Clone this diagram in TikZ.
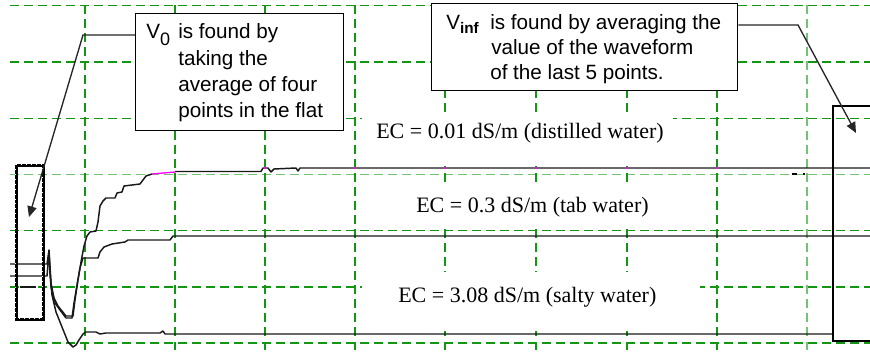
\documentclass[tikz,border=0pt]{standalone}
\usepackage{fontspec}
\setmainfont{Liberation Serif}
\newfontfamily\sansfam{Liberation Sans}
\usetikzlibrary{arrows.meta}
\definecolor{gdark}{RGB}{20,150,20}
\definecolor{glight}{RGB}{115,195,115}
\definecolor{mag}{RGB}{255,0,255}
\begin{document}
\begin{tikzpicture}[x=0.75pt,y=-0.75pt,
 grid/.style={gdark, line width=1.15pt, dash pattern=on 6.5pt off 4pt},
 gridl/.style={glight, line width=1.15pt, dash pattern=on 6.5pt off 4pt},
 trace/.style={black!90, line width=1.1pt, line join=round},
 callout/.style={draw=black, fill=white, line width=1.1pt, inner sep=0pt, anchor=north west},
 selbox/.style={draw=black, line width=2.4pt, inner sep=0pt, anchor=north west},
 txt/.style={font=\sansfam\fontsize{15.5pt}{18pt}\selectfont, inner sep=0pt, anchor=base west},
 ectxt/.style={font=\fontsize{16.5pt}{19pt}\selectfont, inner sep=0pt, anchor=base west},
 pointer/.style={draw=black!85, line width=1pt, -{Triangle[length=8pt,width=7pt]}}
]
\useasboundingbox (0,0) rectangle (870,352);
\fill[white] (0,0) rectangle (870,352);

% grid
\foreach \y in {5.5,62,118.5,230.5,287,343} \draw[grid] (10,\y) -- (870,\y);
\draw[gridl] (10,174.5) -- (870,174.5);
\foreach \x in {85,175,265,355,445,536,627,717} \draw[grid] (\x,5.5) -- (\x,352);
\draw[gridl] (807,5.5) -- (807,352);

% white backgrounds of the EC labels
\fill[white] (362,112) rectangle (673,166);
\fill[white] (372,182) rectangle (690,228);
\fill[white] (362,272) rectangle (700,331);

% traces
\draw[trace] (10,264) -- (47,264) -- (49,250) -- (51,283) -- (54,298) -- (58,306) -- (62,311) -- (66,316) -- (73,316) -- (75,300) -- (78,280) -- (81,262) -- (84,246) -- (87,236) -- (90,232) -- (96,231) -- (98,222) -- (100,206) -- (103,201) -- (106,198) -- (115,198) -- (117,193) -- (122,192) -- (124,186) -- (140,184) -- (143,180) -- (146,176) -- (152,174);
\draw[mag, line width=1pt] (152,174) -- (175,172);
\draw[trace] (175,171.5) -- (261,171.5) -- (263,168) -- (268,168) -- (271,172) -- (274,169) -- (296,168) -- (298,171) -- (300,168) -- (870,168);
\draw[trace] (10,276) -- (47,276) -- (49,252) -- (51,287) -- (55,303) -- (60,310) -- (66,318) -- (72,318) -- (74,303) -- (77,285) -- (80,268) -- (83,258) -- (98,258) -- (100,252) -- (104,247) -- (112,244) -- (125,242) -- (128,240) -- (170,240) -- (173,236) -- (870,236);
\draw[trace] (20,287) -- (36,287);
\draw[trace] (49,262) -- (52,295) -- (56,312) -- (60,322) -- (64,332) -- (68,342) -- (73,347) -- (76,345) -- (79,340) -- (83,334) -- (86,332) -- (96,332) -- (100,334) -- (106,333) -- (160,333) -- (163,331) -- (165,334) -- (832,334);
\foreach \x in {265,355,445,536,627,717} \fill[mag] (\x-1,167) rectangle (\x+1,169.5);
\draw[black, line width=1pt] (792,174) -- (797,174);
\fill[black] (803,173) rectangle (805,175);

% selection rectangles
\node[selbox, minimum width=20.25pt, minimum height=115.5pt] (leftsel) at (15,164) {};
\draw[white, line width=0.45pt, dash pattern=on 0.7pt off 3pt] (15,164) rectangle (42,318);
\node[selbox, line width=1.6pt, minimum width=36pt, minimum height=176.25pt] (rightsel) at (832,105) {};

% callout boxes
\node[callout, minimum width=156pt, minimum height=87.75pt] (v0box) at (135,13) {};
\node[callout, minimum width=229.5pt, minimum height=65.25pt] (vibox) at (431,3) {};

% callout texts
\node[txt] (v0v) at (146,39) {V\raisebox{-5pt}{\fontsize{13.5pt}{14pt}\selectfont 0}};
\node[txt] (v0a) at (178,39) {is found by};
\node[txt] (v0b) at (178,65.3) {taking the};
\node[txt] (v0c) at (178,91.6) {average of four};
\node[txt] (v0d) at (178,118) {points in the flat};
\node[txt] (viv) at (446,30) {V\raisebox{-3pt}{\fontsize{11.5pt}{12pt}\selectfont\bfseries inf}};
\node[txt] (via) at (490,30) {is found by averaging the};
\node[txt] (vib) at (491,55) {value of the waveform};
\node[txt] (vic) at (490,80) {of the last 5 points.};

% EC labels
\node[ectxt] (ec1) at (376,139) {EC = 0.01 dS/m (distilled water)};
\node[ectxt] (ec2) at (416,213) {EC = 0.3 dS/m (tab water)};
\node[ectxt] (ec3) at (398,303) {EC = 3.08 dS/m (salty water)};

% pointers
\coordinate (v0bend) at (83,35);
\coordinate (v0tip) at (29,217);
\draw[pointer] (v0box.west |- v0bend) -- (v0bend) -- (v0tip);
\coordinate (vibend) at (798,25);
\coordinate (vitip) at (856,133);
\draw[pointer] (vibox.east |- vibend) -- (vibend) -- (vitip);
\end{tikzpicture}
\end{document}
